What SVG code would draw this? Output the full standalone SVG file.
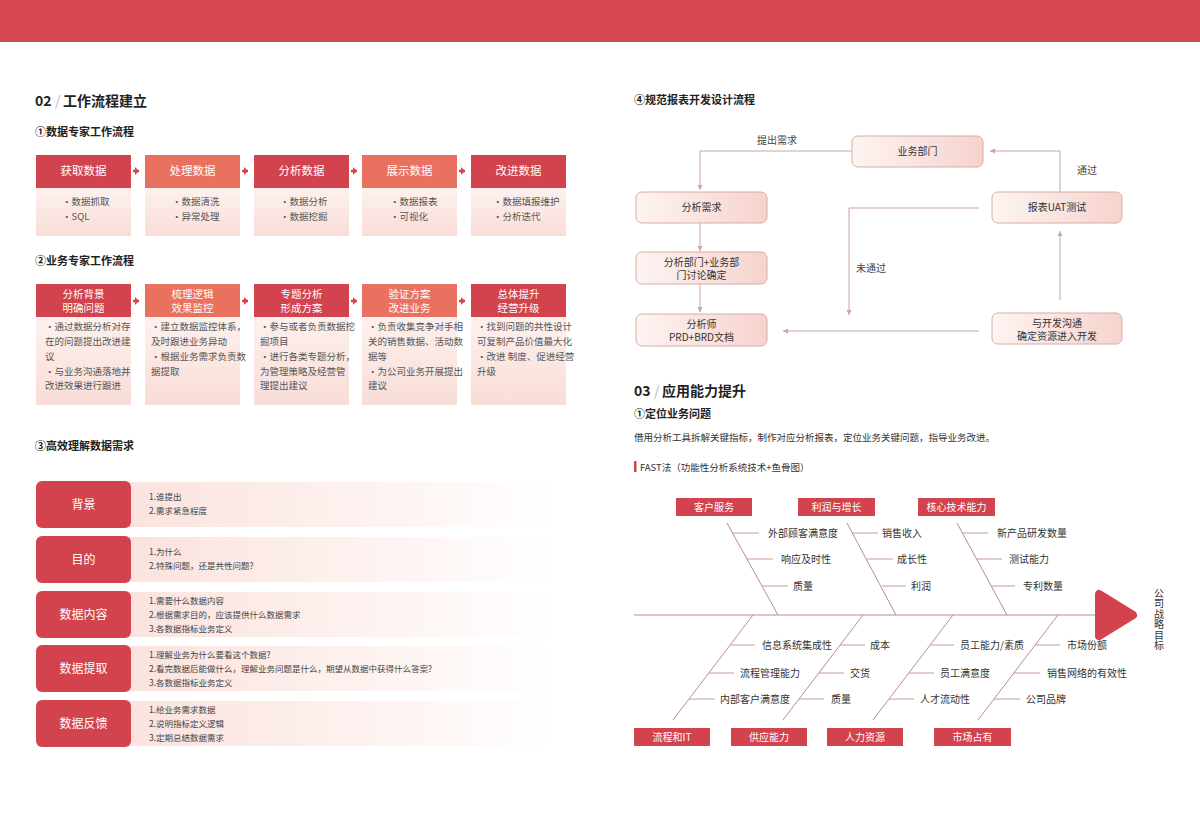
<svg xmlns="http://www.w3.org/2000/svg" width="1200" height="840" viewBox="0 0 1200 840">
<style>
text{font-family:"Noto Sans CJK SC","Noto Sans",sans-serif;fill:#333}
.h1{font-size:14px;font-weight:bold;fill:#222}
.sl{font-size:14px;fill:#bbb}
.h2{font-size:11px;font-weight:bold;fill:#222}
.wh{fill:#fff;text-anchor:middle}
.hd1{font-size:11.5px}
.hd2{font-size:10.5px}
.bd{font-size:9.5px;fill:#555}
.rl{font-size:12px}
.ct{font-size:8.5px;fill:#444}
.fn{font-size:10px;fill:#333;text-anchor:middle}
.lb{font-size:10px;fill:#444}
.fb{font-size:10px;fill:#333}
.cat{font-size:10px}
.dk{fill:#d2434d}
.sa{fill:#e8715f}
.con{fill:none;stroke:#c9a6a1;stroke-width:1}
.bone{fill:none;stroke:#b98e88;stroke-width:1}
.sub{fill:none;stroke:#c79c96;stroke-width:1}
.node{fill:url(#ng);stroke:#d8aca6;stroke-width:1}
</style>
<defs>
<linearGradient id="bg1" x1="0" y1="0" x2="0" y2="1"><stop offset="0" stop-color="#fdf1ee"/><stop offset="1" stop-color="#f9ddd7"/></linearGradient>
<linearGradient id="rg" x1="0" y1="0" x2="1" y2="0"><stop offset="0" stop-color="#fbe1dc"/><stop offset="1" stop-color="#fbe1dc" stop-opacity="0"/></linearGradient>
<linearGradient id="ng" x1="0" y1="0" x2="1" y2="0"><stop offset="0" stop-color="#fdf4f2"/><stop offset="1" stop-color="#f6d3cd"/></linearGradient>
<marker id="ah" markerUnits="userSpaceOnUse" markerWidth="6" markerHeight="6" refX="5" refY="3" orient="auto"><path d="M0,0.5 L5,3 L0,5.5 z" fill="#c9a6a1"/></marker>
<marker id="ra" markerUnits="userSpaceOnUse" markerWidth="8" markerHeight="8" refX="4" refY="4" orient="auto"><path d="M0,0 L4,4 L0,8 z" fill="#d2434d"/></marker>
</defs>
<rect x="0" y="0" width="1200" height="42" fill="#d4474f"/>

<text class="h1" x="35" y="106">02</text><text class="sl" x="55" y="106">/</text><text class="h1" x="63" y="106">工作流程建立</text>
<text class="h2" x="35" y="136">①数据专家工作流程</text>

<g id="s1-1"><rect x="36" y="155" width="95" height="33" class="dk"/><rect x="36" y="188" width="95" height="48" fill="url(#bg1)"/><text class="wh hd1" x="83.5" y="175">获取数据</text><text class="bd" x="62" y="205">·数据抓取</text><text class="bd" x="62" y="220">·SQL</text></g>
<g id="s1-2"><rect x="145" y="155" width="95" height="33" class="sa"/><rect x="145" y="188" width="95" height="48" fill="url(#bg1)"/><text class="wh hd1" x="192.5" y="175">处理数据</text><text class="bd" x="172" y="205">·数据清洗</text><text class="bd" x="172" y="220">·异常处理</text></g>
<g id="s1-3"><rect x="254" y="155" width="95" height="33" class="dk"/><rect x="254" y="188" width="95" height="48" fill="url(#bg1)"/><text class="wh hd1" x="301.5" y="175">分析数据</text><text class="bd" x="280" y="205">·数据分析</text><text class="bd" x="280" y="220">·数据挖掘</text></g>
<g id="s1-4"><rect x="362" y="155" width="95" height="33" class="sa"/><rect x="362" y="188" width="95" height="48" fill="url(#bg1)"/><text class="wh hd1" x="409.5" y="175">展示数据</text><text class="bd" x="390" y="205">·数据报表</text><text class="bd" x="390" y="220">·可视化</text></g>
<g id="s1-5"><rect x="471" y="155" width="95" height="33" class="dk"/><rect x="471" y="188" width="95" height="48" fill="url(#bg1)"/><text class="wh hd1" x="518.5" y="175">改进数据</text><text class="bd" x="493" y="205">·数据填报维护</text><text class="bd" x="493" y="220">·分析迭代</text></g>

<text class="h2" x="35" y="265">②业务专家工作流程</text>
<g id="s2-1"><rect x="36" y="284" width="95" height="33" class="dk"/><rect x="36" y="317" width="95" height="88" fill="url(#bg1)"/><text class="wh hd2" x="83.5" y="298">分析背景</text><text class="wh hd2" x="83.5" y="312">明确问题</text>
<text class="bd" x="45" y="330">·通过数据分析对存</text><text class="bd" x="45" y="345">在的问题提出改进建</text><text class="bd" x="45" y="360">议</text><text class="bd" x="45" y="375">·与业务沟通落地并</text><text class="bd" x="45" y="389">改进效果进行跟进</text></g>
<g id="s2-2"><rect x="145" y="284" width="95" height="33" class="sa"/><rect x="145" y="317" width="95" height="88" fill="url(#bg1)"/><text class="wh hd2" x="192.5" y="298">梳理逻辑</text><text class="wh hd2" x="192.5" y="312">效果监控</text>
<text class="bd" x="151" y="330">·建立数据监控体系，</text><text class="bd" x="151" y="345">及时跟进业务异动</text><text class="bd" x="151" y="360">·根据业务需求负责数</text><text class="bd" x="151" y="375">据提取</text></g>
<g id="s2-3"><rect x="254" y="284" width="95" height="33" class="dk"/><rect x="254" y="317" width="95" height="88" fill="url(#bg1)"/><text class="wh hd2" x="301.5" y="298">专题分析</text><text class="wh hd2" x="301.5" y="312">形成方案</text>
<text class="bd" x="260" y="330">·参与或者负责数据挖</text><text class="bd" x="260" y="345">掘项目</text><text class="bd" x="260" y="360">·进行各类专题分析，</text><text class="bd" x="260" y="375">为管理策略及经营管</text><text class="bd" x="260" y="389">理提出建议</text></g>
<g id="s2-4"><rect x="362" y="284" width="95" height="33" class="sa"/><rect x="362" y="317" width="95" height="88" fill="url(#bg1)"/><text class="wh hd2" x="409.5" y="298">验证方案</text><text class="wh hd2" x="409.5" y="312">改进业务</text>
<text class="bd" x="368" y="330">·负责收集竞争对手相</text><text class="bd" x="368" y="345">关的销售数据、活动数</text><text class="bd" x="368" y="360">据等</text><text class="bd" x="368" y="375">·为公司业务开展提出</text><text class="bd" x="368" y="389">建议</text></g>
<g id="s2-5"><rect x="471" y="284" width="95" height="33" class="dk"/><rect x="471" y="317" width="95" height="88" fill="url(#bg1)"/><text class="wh hd2" x="518.5" y="298">总体提升</text><text class="wh hd2" x="518.5" y="312">经营升级</text>
<text class="bd" x="477" y="330">·找到问题的共性设计</text><text class="bd" x="477" y="345">可复制产品价值最大化</text><text class="bd" x="477" y="360">·改进 制度、促进经营</text><text class="bd" x="477" y="375">升级</text></g>

<g id="flow-arrows" stroke="#d2434d" stroke-width="2.5">
<line x1="133" y1="171" x2="139" y2="171" marker-end="url(#ra)"/>
<line x1="242" y1="171" x2="248" y2="171" marker-end="url(#ra)"/>
<line x1="351" y1="171" x2="357" y2="171" marker-end="url(#ra)"/>
<line x1="459" y1="171" x2="465" y2="171" marker-end="url(#ra)"/>
<line x1="133" y1="301" x2="139" y2="301" marker-end="url(#ra)"/>
<line x1="242" y1="301" x2="248" y2="301" marker-end="url(#ra)"/>
<line x1="351" y1="301" x2="357" y2="301" marker-end="url(#ra)"/>
<line x1="459" y1="301" x2="465" y2="301" marker-end="url(#ra)"/>
</g>

<text class="h2" x="35" y="450">③高效理解数据需求</text>
<g id="r1"><rect x="110" y="482" width="445" height="45" fill="url(#rg)"/><rect x="36" y="481" width="95" height="47" rx="6" class="dk"/><text class="wh rl" x="83.5" y="509">背景</text><text class="ct" x="149" y="500">1.谁提出</text><text class="ct" x="149" y="514">2.需求紧急程度</text></g>
<g id="r2"><rect x="110" y="537" width="445" height="45" fill="url(#rg)"/><rect x="36" y="536" width="95" height="47" rx="6" class="dk"/><text class="wh rl" x="83.5" y="564">目的</text><text class="ct" x="149" y="555">1.为什么</text><text class="ct" x="149" y="569">2.特殊问题，还是共性问题?</text></g>
<g id="r3"><rect x="110" y="592" width="445" height="45" fill="url(#rg)"/><rect x="36" y="591" width="95" height="47" rx="6" class="dk"/><text class="wh rl" x="83.5" y="619">数据内容</text><text class="ct" x="149" y="604">1.需要什么数据内容</text><text class="ct" x="149" y="618">2.根据需求目的，应该提供什么数据需求</text><text class="ct" x="149" y="632">3.各数据指标业务定义</text></g>
<g id="r4"><rect x="110" y="646" width="445" height="45" fill="url(#rg)"/><rect x="36" y="645" width="95" height="47" rx="6" class="dk"/><text class="wh rl" x="83.5" y="673">数据提取</text><text class="ct" x="149" y="658">1.理解业务为什么要看这个数据?</text><text class="ct" x="149" y="672">2.看完数据后能做什么，理解业务问题是什么，期望从数据中获得什么答案?</text><text class="ct" x="149" y="686">3.各数据指标业务定义</text></g>
<g id="r5"><rect x="110" y="701" width="445" height="45" fill="url(#rg)"/><rect x="36" y="700" width="95" height="47" rx="6" class="dk"/><text class="wh rl" x="83.5" y="728">数据反馈</text><text class="ct" x="149" y="713">1.给业务需求数据</text><text class="ct" x="149" y="727">2.说明指标定义逻辑</text><text class="ct" x="149" y="741">3.定期总结数据需求</text></g>

<text class="h2" x="634" y="104">④规范报表开发设计流程</text>
<g id="connectors">
<path class="con" d="M852,151 H700 V190" marker-end="url(#ah)"/>
<path class="con" d="M700,223 V251" marker-end="url(#ah)"/>
<path class="con" d="M700,284 V312" marker-end="url(#ah)"/>
<path class="con" d="M979,331 H783" marker-end="url(#ah)"/>
<path class="con" d="M979,208 H849 V315" marker-end="url(#ah)"/>
<path class="con" d="M1060,300 V231" marker-end="url(#ah)"/>
<path class="con" d="M1060,192 V151 H990" marker-end="url(#ah)"/>
<text class="lb" x="757" y="144">提出需求</text>
<text class="lb" x="856" y="272">未通过</text>
<text class="lb" x="1077" y="174">通过</text>
</g>
<g id="n-biz"><rect class="node" x="852" y="136" width="131" height="31" rx="6"/><text class="fn" x="917.5" y="155">业务部门</text></g>
<g id="n-req"><rect class="node" x="636" y="192" width="131" height="31" rx="6"/><text class="fn" x="701.5" y="211">分析需求</text></g>
<g id="n-uat"><rect class="node" x="992" y="192" width="130" height="31" rx="6"/><text class="fn" x="1057" y="211">报表UAT测试</text></g>
<g id="n-disc"><rect class="node" x="636" y="252" width="131" height="32" rx="6"/><text class="fn" x="701.5" y="266">分析部门+业务部</text><text class="fn" x="701.5" y="279">门讨论确定</text></g>
<g id="n-prd"><rect class="node" x="636" y="314" width="131" height="32" rx="6"/><text class="fn" x="701.5" y="328">分析师</text><text class="fn" x="701.5" y="341">PRD+BRD文档</text></g>
<g id="n-dev"><rect class="node" x="992" y="313" width="130" height="31" rx="6"/><text class="fn" x="1057" y="327">与开发沟通</text><text class="fn" x="1057" y="340">确定资源进入开发</text></g>

<text class="h1" x="634" y="396">03</text><text class="sl" x="654" y="396">/</text><text class="h1" x="662" y="396">应用能力提升</text>
<text class="h2" x="634" y="418">①定位业务问题</text>
<text x="634" y="441" font-size="9.5" fill="#444">借用分析工具拆解关键指标，制作对应分析报表，定位业务关键问题，指导业务改进。</text>
<rect x="634" y="461" width="2.5" height="11" fill="#d2434d"/>
<text x="640" y="471" font-size="9.5" fill="#444">FAST法（功能性分析系统技术+鱼骨图）</text>

<g id="fishbone">
<line class="bone" x1="634" y1="615" x2="1100" y2="615"/>
<path d="M1099,594 L1099,636 L1133,615 Z" fill="#d2434d" stroke="#d2434d" stroke-width="8" stroke-linejoin="round"/>
<text x="1159" y="588" font-size="10" fill="#333" writing-mode="vertical-rl" letter-spacing="0.5">公司战略目标</text>
<line class="bone" x1="727" y1="523" x2="778" y2="615"/>
<line class="bone" x1="847" y1="523" x2="896" y2="615"/>
<line class="bone" x1="957" y1="523" x2="1007" y2="615"/>
<line class="bone" x1="753" y1="615" x2="673" y2="720"/>
<line class="bone" x1="863" y1="615" x2="783" y2="720"/>
<line class="bone" x1="953" y1="615" x2="873" y2="720"/>
<line class="bone" x1="1058" y1="615" x2="978" y2="720"/>
<g class="sub">
<line x1="732" y1="533" x2="759" y2="533"/><line x1="747" y1="559" x2="773" y2="559"/><line x1="762" y1="586" x2="788" y2="586"/>
<line x1="852" y1="533" x2="878" y2="533"/><line x1="867" y1="559" x2="893" y2="559"/><line x1="882" y1="586" x2="906" y2="586"/>
<line x1="962" y1="533" x2="988" y2="533"/><line x1="977" y1="559" x2="1002" y2="559"/><line x1="991" y1="586" x2="1015" y2="586"/>
<line x1="731" y1="645" x2="755" y2="645"/><line x1="709" y1="673" x2="734" y2="673"/><line x1="689" y1="699" x2="715" y2="699"/>
<line x1="840" y1="645" x2="865" y2="645"/><line x1="819" y1="673" x2="844" y2="673"/><line x1="799" y1="699" x2="824" y2="699"/>
<line x1="930" y1="645" x2="954" y2="645"/><line x1="909" y1="673" x2="934" y2="673"/><line x1="889" y1="699" x2="914" y2="699"/>
<line x1="1035" y1="645" x2="1060" y2="645"/><line x1="1014" y1="673" x2="1040" y2="673"/><line x1="994" y1="699" x2="1020" y2="699"/>
</g>
<text class="fb" x="768" y="537">外部顾客满意度</text><text class="fb" x="781" y="563">响应及时性</text><text class="fb" x="793" y="590">质量</text>
<text class="fb" x="882" y="537">销售收入</text><text class="fb" x="897" y="563">成长性</text><text class="fb" x="911" y="590">利润</text>
<text class="fb" x="997" y="537">新产品研发数量</text><text class="fb" x="1009" y="563">测试能力</text><text class="fb" x="1023" y="590">专利数量</text>
<text class="fb" x="762" y="649">信息系统集成性</text><text class="fb" x="740" y="677">流程管理能力</text><text class="fb" x="720" y="703">内部客户满意度</text>
<text class="fb" x="870" y="649">成本</text><text class="fb" x="850" y="677">交货</text><text class="fb" x="831" y="703">质量</text>
<text class="fb" x="960" y="649">员工能力/素质</text><text class="fb" x="940" y="677">员工满意度</text><text class="fb" x="920" y="703">人才流动性</text>
<text class="fb" x="1067" y="649">市场份额</text><text class="fb" x="1047" y="677">销售网络的有效性</text><text class="fb" x="1026" y="703">公司品牌</text>
</g>
<g id="cat-top">
<rect x="676" y="498" width="76" height="18" class="dk"/><text class="wh cat" x="714" y="511">客户服务</text>
<rect x="798" y="498" width="77" height="18" class="dk"/><text class="wh cat" x="836.5" y="511">利润与增长</text>
<rect x="918" y="498" width="77" height="18" class="dk"/><text class="wh cat" x="956.5" y="511">核心技术能力</text>
</g>
<g id="cat-bottom">
<rect x="634" y="728" width="76" height="18" class="dk"/><text class="wh cat" x="672" y="741">流程和IT</text>
<rect x="731" y="728" width="76" height="18" class="dk"/><text class="wh cat" x="769" y="741">供应能力</text>
<rect x="827" y="728" width="76" height="18" class="dk"/><text class="wh cat" x="865" y="741">人力资源</text>
<rect x="934" y="728" width="77" height="18" class="dk"/><text class="wh cat" x="972.5" y="741">市场占有</text>
</g>
</svg>
